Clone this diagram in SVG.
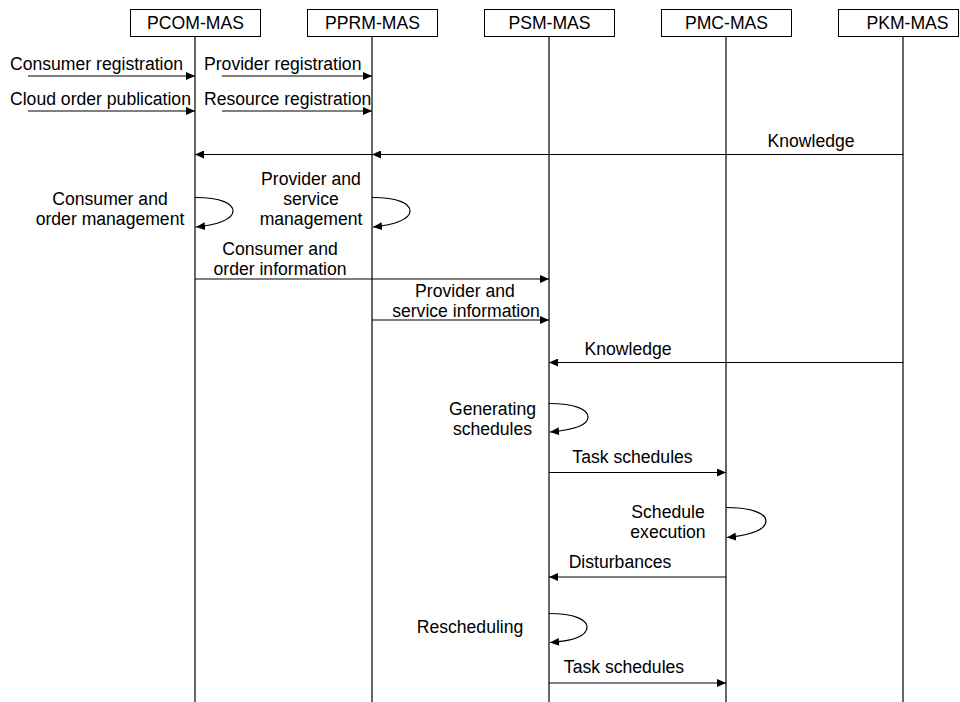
<svg xmlns="http://www.w3.org/2000/svg" width="960" height="702" viewBox="0 0 960 702">
<defs>
<marker id="ah" viewBox="0 0 10 10" refX="10" refY="5" markerWidth="9" markerHeight="8" markerUnits="userSpaceOnUse" orient="auto" preserveAspectRatio="none">
<path d="M0,0 L10,5 L0,10 z" fill="#000"/>
</marker>
<style>
text{font-family:"Liberation Sans",Arial,sans-serif;font-size:17.6px;fill:#000}
.box{fill:#fff;stroke:#000;stroke-width:1}
.life{stroke:#000;stroke-width:1.2;fill:none}
.msg{stroke:#000;stroke-width:1.2;fill:none;marker-end:url(#ah)}
.c{text-anchor:middle}
.s{text-anchor:start}
</style>
</defs>
<rect width="960" height="702" fill="#fff"/>
<g id="lifelines">
<line class="life" x1="195" y1="36" x2="195" y2="702"/>
<line class="life" x1="372" y1="36" x2="372" y2="702"/>
<line class="life" x1="549" y1="36" x2="549" y2="702"/>
<line class="life" x1="726" y1="36" x2="726" y2="702"/>
<line class="life" x1="903" y1="36" x2="903" y2="702"/>
</g>
<g id="PCOM-MAS"><rect class="box" x="130.5" y="9.5" width="130" height="27"/><text class="c" x="195.5" y="29">PCOM-MAS</text></g>
<g id="PPRM-MAS"><rect class="box" x="307.5" y="9.5" width="130" height="27"/><text class="c" x="372.5" y="29">PPRM-MAS</text></g>
<g id="PSM-MAS"><rect class="box" x="484.5" y="9.5" width="130" height="27"/><text class="c" x="549.5" y="29">PSM-MAS</text></g>
<g id="PMC-MAS"><rect class="box" x="661.5" y="9.5" width="130" height="27"/><text class="c" x="726.5" y="29">PMC-MAS</text></g>
<g id="PKM-MAS"><rect class="box" x="838.5" y="9.5" width="120" height="27"/><text class="c" x="907.5" y="29">PKM-MAS</text></g>
<g id="connectors">
<line class="msg" x1="28" y1="76" x2="195" y2="76"/>
<line class="msg" x1="28" y1="111" x2="195" y2="111"/>
<line class="msg" x1="222" y1="76" x2="372" y2="76"/>
<line class="msg" x1="222" y1="111" x2="372" y2="111"/>
<line class="msg" x1="903" y1="154.5" x2="372" y2="154.5"/>
<line class="msg" x1="903" y1="154.5" x2="195" y2="154.5"/>
<path class="msg" d="M195,197.5 C222,197.5 233,204 233,211 C233,219 218,225 196,227"/>
<path class="msg" d="M372,197.5 C399,197.5 410,204 410,211 C410,219 395,225 373,227"/>
<line class="msg" x1="195" y1="279" x2="549" y2="279"/>
<line class="msg" x1="372" y1="320" x2="549" y2="320"/>
<line class="msg" x1="903" y1="362.5" x2="549" y2="362.5"/>
<path class="msg" d="M549,403.5 C576,403.5 588,410 588,417 C588,425 573,430 550,432"/>
<line class="msg" x1="549" y1="472.5" x2="726" y2="472.5"/>
<path class="msg" d="M726,507.5 C753,507.5 766,514 766,521 C766,530 750,535 727,537.5"/>
<line class="msg" x1="726" y1="577" x2="549" y2="577"/>
<path class="msg" d="M549,613.5 C575,613.5 587,620 587,627 C587,636 572,641 550,642.5"/>
<line class="msg" x1="549" y1="683" x2="726" y2="683"/>
</g>
<g id="labels">
<text class="s" x="10" y="70">Consumer registration</text>
<text class="s" x="10" y="105">Cloud order publication</text>
<text class="s" x="204" y="70">Provider registration</text>
<text class="s" x="204" y="105">Resource registration</text>
<text class="c" x="811" y="147">Knowledge</text>
<text class="c" x="110" y="205">Consumer and</text>
<text class="c" x="110" y="225">order management</text>
<text class="c" x="311" y="185">Provider and</text>
<text class="c" x="311" y="205">service</text>
<text class="c" x="311" y="225">management</text>
<text class="c" x="280" y="255">Consumer and</text>
<text class="c" x="280" y="275">order information</text>
<text class="c" x="465" y="297">Provider and</text>
<text class="c" x="466" y="317">service information</text>
<text class="c" x="628" y="355">Knowledge</text>
<text class="c" x="492.5" y="415">Generating</text>
<text class="c" x="492.5" y="435">schedules</text>
<text class="c" x="632.5" y="463">Task schedules</text>
<text class="c" x="668" y="518">Schedule</text>
<text class="c" x="668" y="538">execution</text>
<text class="c" x="620" y="568">Disturbances</text>
<text class="c" x="470" y="633">Rescheduling</text>
<text class="c" x="624" y="673">Task schedules</text>
</g>
</svg>
